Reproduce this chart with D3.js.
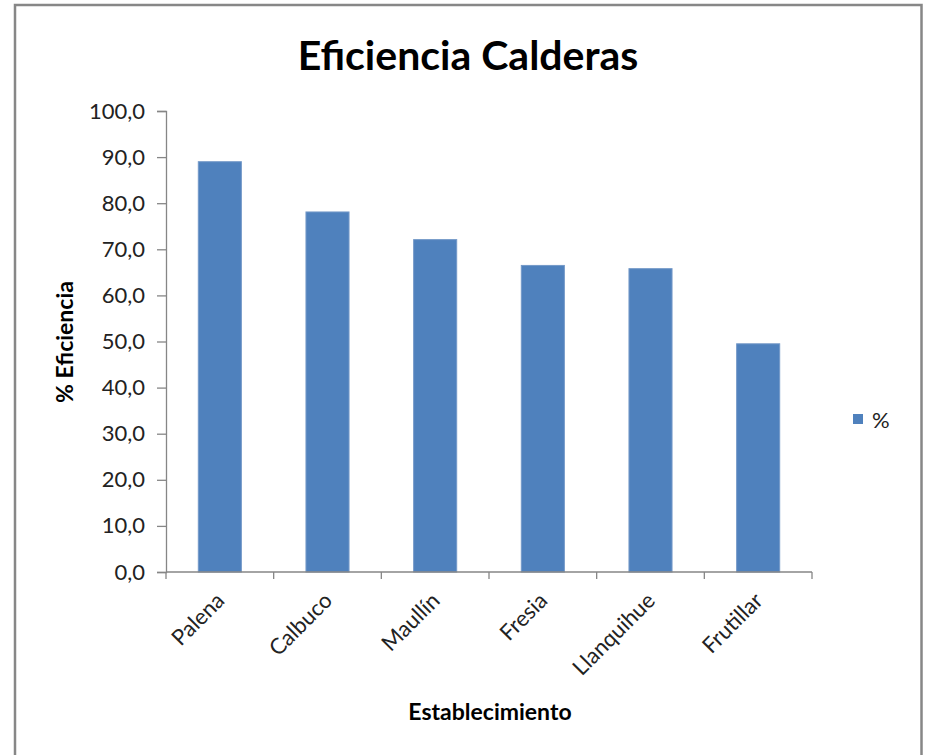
<!DOCTYPE html>
<html>
<head>
<meta charset="utf-8">
<script src="https://cdn.jsdelivr.net/npm/d3@7"></script>
<style>
html,body{margin:0;padding:0;background:#fff;}
svg{display:block;}
</style>
</head>
<body>
<svg id="chart" width="925" height="755"></svg>
<script>
const categories = ["Palena", "Calbuco", "Maullín", "Fresia", "Llanquihue", "Frutillar"];
const values = [89.0, 78.1, 72.1, 66.5, 65.8, 49.5];
const yTicks = [0, 10, 20, 30, 40, 50, 60, 70, 80, 90, 100];
const seriesName = "%";

const svg = d3.select("#chart");
const font = "Lato, 'Open Sans', sans-serif";

// outer frame
svg.append("rect").attr("x", 15).attr("y", 5).attr("width", 906.5).attr("height", 760)
  .attr("fill", "#fff").attr("stroke", "#878787").attr("stroke-width", 2.5);

const plotLeft = 166, plotRight = 812, plotTop = 111, plotBottom = 572;

const x = d3.scaleBand().domain(categories).range([plotLeft, plotRight]).paddingInner(0.6).paddingOuter(0.3);
const y = d3.scaleLinear().domain([0, 100]).range([plotBottom, plotTop]);

// title
svg.append("text").attr("x", 468).attr("y", 70).attr("text-anchor", "middle")
  .attr("font-family", font).attr("font-weight", "bold").attr("font-size", 41)
  .attr("fill", "#000").text("Eficiencia Calderas");

// bars
svg.append("g").selectAll("rect").data(values).join("rect")
  .attr("x", (d, i) => x(categories[i]))
  .attr("y", d => y(d))
  .attr("width", x.bandwidth())
  .attr("height", d => y(0) - y(d))
  .attr("fill", "#4F81BD")
  .attr("stroke", "#7499c8").attr("stroke-width", 1);

// y axis
const yAxis = d3.axisLeft(y).tickValues(yTicks).tickSize(9).tickPadding(12)
  .tickFormat(d => d3.format(".1f")(d).replace(".", ","));
const gy = svg.append("g").attr("transform", `translate(${plotLeft},0)`).call(yAxis);
gy.select(".domain").attr("stroke", "#868686").attr("stroke-width", 1.3);
gy.selectAll(".tick line").attr("stroke", "#868686").attr("stroke-width", 1.3);
gy.selectAll(".tick text").attr("font-family", font).attr("font-size", 22).attr("fill", "#222");

// x axis
const gx = svg.append("g").attr("transform", `translate(0,${plotBottom})`);
gx.append("line").attr("x1", plotLeft).attr("x2", plotRight).attr("y1", 0).attr("y2", 0)
  .attr("stroke", "#868686").attr("stroke-width", 1.3);
const boundaries = categories.map(c => x(c) - x.step() * x.paddingInner() / 2).concat([plotRight]);
gx.selectAll("line.tk").data(boundaries).join("line").attr("class", "tk")
  .attr("x1", d => d).attr("x2", d => d).attr("y1", 0).attr("y2", 7)
  .attr("stroke", "#868686").attr("stroke-width", 1.3);
gx.selectAll("text.cat").data(categories).join("text").attr("class", "cat")
  .attr("transform", d => `translate(${x(d) + x.bandwidth() / 2 + 6},${30}) rotate(-45)`)
  .attr("text-anchor", "end")
  .attr("font-family", font).attr("font-size", 22).attr("fill", "#222")
  .text(d => d);

// axis titles
svg.append("text").attr("transform", "translate(73,342) rotate(-90)").attr("text-anchor", "middle")
  .attr("font-family", font).attr("font-weight", "bold").attr("font-size", 23).attr("fill", "#000")
  .text("% Eficiencia");
svg.append("text").attr("x", 490).attr("y", 720).attr("text-anchor", "middle")
  .attr("font-family", font).attr("font-weight", "bold").attr("font-size", 23).attr("fill", "#000")
  .text("Establecimiento");

// legend
const lg = svg.append("g").attr("transform", "translate(853,414)");
lg.append("rect").attr("width", 10).attr("height", 10).attr("fill", "#4F81BD");
lg.append("text").attr("x", 19).attr("y", 14).attr("font-family", font).attr("font-size", 22)
  .attr("fill", "#222").text(seriesName);
</script>
</body>
</html>
